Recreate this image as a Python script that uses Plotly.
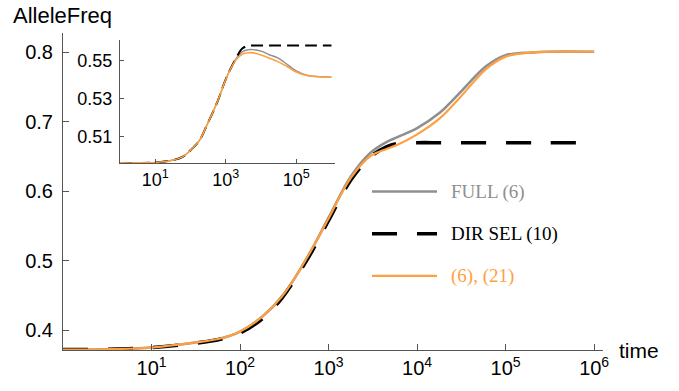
import plotly.graph_objects as go

# ---------------- data ----------------
time = [1, 3, 10, 30, 60, 100, 180, 300, 600, 1000, 1800, 3000, 4500, 6000,
        10000, 18000, 30000, 60000, 100000, 200000, 300000, 1000000]

# main panel
orange_main = [0.372, 0.3725, 0.375, 0.382, 0.388, 0.398, 0.420, 0.449, 0.509, 0.561,
               0.620, 0.651, 0.661, 0.667, 0.682, 0.705, 0.734, 0.776, 0.794, 0.800,
               0.801, 0.801]
full_main = [0.372, 0.3725, 0.375, 0.382, 0.388, 0.398, 0.420, 0.449, 0.509, 0.562,
             0.622, 0.656, 0.671, 0.678, 0.691, 0.713, 0.741, 0.780, 0.796, 0.800,
             0.801, 0.801]
dirsel_main = [0.372, 0.3725, 0.375, 0.381, 0.387, 0.396, 0.417, 0.447, 0.506, 0.558,
               0.617, 0.650, 0.664, 0.669, 0.670, 0.670, 0.670, 0.670, 0.670, 0.670,
               0.670, 0.670]

# inset panel
orange_inset = [0.4961, 0.4961, 0.4963, 0.4975, 0.4993, 0.5028, 0.5080, 0.5165, 0.5290,
                0.5400, 0.5495, 0.5535, 0.5542, 0.5541, 0.5530, 0.5512, 0.5495, 0.5465,
                0.5440, 0.5422, 0.5418, 0.5413]
full_inset = [0.4961, 0.4961, 0.4963, 0.4975, 0.4993, 0.5028, 0.5080, 0.5165, 0.5290,
              0.5402, 0.5500, 0.5548, 0.5558, 0.5558, 0.5550, 0.5530, 0.5515, 0.5475,
              0.5446, 0.5423, 0.5418, 0.5413]
dirsel_inset = [0.4961, 0.4961, 0.4963, 0.4975, 0.4993, 0.5028, 0.5080, 0.5165, 0.5290,
                0.5402, 0.5500, 0.5565, 0.5579, 0.5580, 0.5580, 0.5580, 0.5580, 0.5580,
                0.5580, 0.5580, 0.5580, 0.5580]

main_xticks = [10, 100, 1000, 10000, 100000, 1000000]
main_xticktext = ["10<sup>1</sup>", "10<sup>2</sup>", "10<sup>3</sup>",
                  "10<sup>4</sup>", "10<sup>5</sup>", "10<sup>6</sup>"]
main_yticks = [0.4, 0.5, 0.6, 0.7, 0.8]
inset_xticks = [10, 1000, 100000]
inset_xticktext = ["10<sup>1</sup>", "10<sup>3</sup>", "10<sup>5</sup>"]
inset_yticks = [0.51, 0.53, 0.55]

legend_names = ["FULL (6)", "DIR SEL (10)", "(6), (21)"]

# ---------------- styles ----------------
GRAY = "#8f8f8f"
BLACK = "#000000"
ORANGE = "#ffa040"
AXIS = "#555555"
SANS = "Liberation Sans, Arial, sans-serif"
SERIF = "Liberation Serif, Times New Roman, serif"

fig = go.Figure()

# main traces
fig.add_trace(go.Scatter(x=time, y=full_main, mode="lines", line=dict(color=GRAY, width=2.6, shape="spline"),
                         xaxis="x", yaxis="y", showlegend=False))
fig.add_trace(go.Scatter(x=time, y=dirsel_main, mode="lines",
                         line=dict(color=BLACK, width=3.6, dash="25px,20px", shape="spline"),
                         xaxis="x", yaxis="y", showlegend=False))
fig.add_trace(go.Scatter(x=time, y=orange_main, mode="lines", line=dict(color=ORANGE, width=2.2, shape="spline"),
                         xaxis="x", yaxis="y", showlegend=False))

# inset traces
fig.add_trace(go.Scatter(x=time, y=full_inset, mode="lines", line=dict(color=GRAY, width=1.4, shape="spline"),
                         xaxis="x2", yaxis="y2", showlegend=False))
fig.add_trace(go.Scatter(x=time, y=dirsel_inset, mode="lines",
                         line=dict(color=BLACK, width=2, dash="12px,6px", shape="spline"),
                         xaxis="x2", yaxis="y2", showlegend=False))
fig.add_trace(go.Scatter(x=time, y=orange_inset, mode="lines", line=dict(color=ORANGE, width=1.6, shape="spline"),
                         xaxis="x2", yaxis="y2", showlegend=False))

# geometry in page pixels: plot area 63..603 wide, 33..359 tall
W, H = 679, 391
L, R, T, B = 63, 603, 33, 359


def px(x):
    return (x - L) / (R - L)


def py(y):
    return (B - y) / (B - T)


fig.update_layout(
    width=W, height=H,
    margin=dict(l=L, r=W - R, t=T, b=H - B, pad=0),
    paper_bgcolor="white", plot_bgcolor="white",
    font=dict(family=SANS, color="black"),
    xaxis=dict(type="log", range=[0, 6.1], domain=[0, 1], anchor="y",
               tickvals=main_xticks, ticktext=main_xticktext,
               ticks="inside", ticklen=6, tickcolor=AXIS,
               showline=True, linecolor=AXIS, linewidth=1, showgrid=False, zeroline=False,
               tickfont=dict(size=20, family=SANS, color="black")),
    yaxis=dict(range=[0.3715, 0.828], domain=[0, 1], anchor="x",
               tickvals=main_yticks, tickformat=".1f",
               ticks="inside", ticklen=6, tickcolor=AXIS, ticklabelstandoff=5,
               showline=True, linecolor=AXIS, linewidth=1, showgrid=False, zeroline=False,
               tickfont=dict(size=20, family=SANS, color="black")),
    xaxis2=dict(type="log", range=[0, 6.1], domain=[px(120), px(335)], anchor="y2",
                tickvals=inset_xticks, ticktext=inset_xticktext,
                ticks="inside", ticklen=4, tickcolor=AXIS,
                showline=True, linecolor=AXIS, linewidth=1, showgrid=False, zeroline=False,
                tickfont=dict(size=18, family=SANS, color="black")),
    yaxis2=dict(range=[0.4959, 0.5610], domain=[py(167), py(40)], anchor="x2",
                tickvals=inset_yticks, tickformat=".2f",
                ticks="inside", ticklen=4, tickcolor=AXIS, ticklabelstandoff=3,
                showline=True, linecolor=AXIS, linewidth=1, showgrid=False, zeroline=False,
                tickfont=dict(size=18, family=SANS, color="black")),
)

# axis titles
fig.add_annotation(text="AlleleFreq", x=px(11), y=py(15), xref="paper", yref="paper",
                   xanchor="left", yanchor="middle", showarrow=False,
                   font=dict(size=22, family=SANS, color="black"))
fig.add_annotation(text="time", x=px(617), y=py(360), xref="paper", yref="paper",
                   xanchor="left", yanchor="middle", showarrow=False,
                   font=dict(size=21, family=SANS, color="black"))

# hand-drawn legend
leg_rows = [(196, GRAY, 2.6, "solid", GRAY),
            (239.5, BLACK, 3.6, "25px,20px", BLACK),
            (282.7, ORANGE, 2.2, "solid", ORANGE)]
for (yy, col, w, dash, tcol), name in zip(leg_rows, legend_names):
    fig.add_shape(type="line", xref="paper", yref="paper",
                  x0=px(372), x1=px(437), y0=py(yy), y1=py(yy),
                  line=dict(color=col, width=w, dash=dash))
    fig.add_annotation(text=name, x=px(449), y=py(yy), xref="paper", yref="paper",
                       xanchor="left", yanchor="middle", showarrow=False,
                       font=dict(size=19, family=SERIF, color=tcol))

# remove the default 8px body margin so the figure sits at the page corner
fig.write_html("out.html",
               config={"displayModeBar": False},
               post_script="document.body.style.margin='0';document.body.style.overflow='hidden';")
